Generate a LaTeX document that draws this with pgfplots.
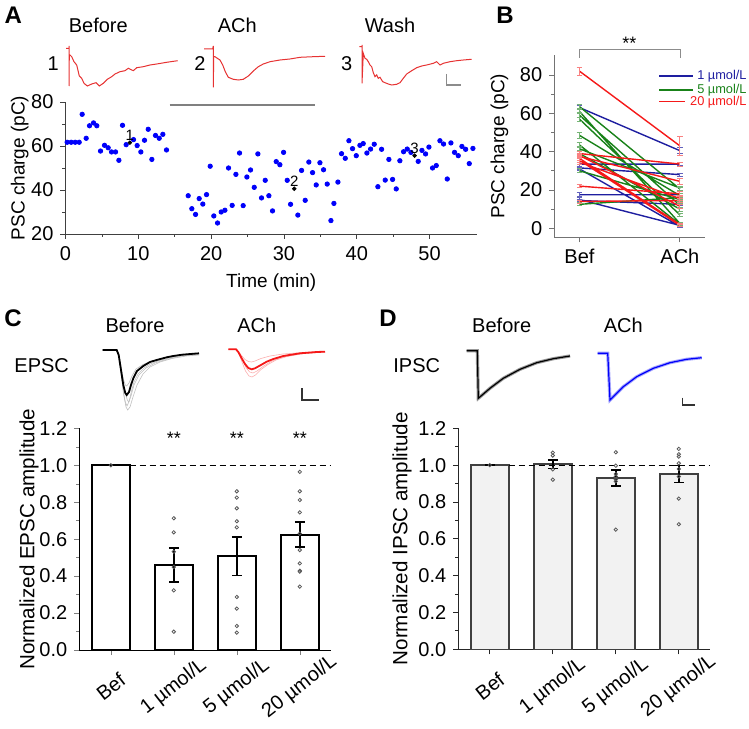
\documentclass[border=0pt]{standalone}
\usepackage{fontspec}
\setmainfont{Liberation Sans}
\usepackage{pgfplots}
\pgfplotsset{compat=1.18}
\newcommand\tfs{\fontsize{10}{12}\selectfont}
\newcommand\lfs{\fontsize{9.5}{11}\selectfont}
\newcommand\cfs{\fontsize{10.3}{12}\selectfont}
\newcommand\hfs{\fontsize{10}{12}\selectfont}
\newcommand\pfs{\fontsize{12}{14}\selectfont\bfseries}
\newcommand\gfs{\fontsize{6.4}{8}\selectfont}
\definecolor{cblue}{RGB}{30,30,160}
\definecolor{cgreen}{RGB}{25,130,25}
\definecolor{cred}{RGB}{245,25,25}
\definecolor{tred}{RGB}{230,50,50}
\definecolor{dblue}{RGB}{0,0,250}
\pgfplotsset{panel/.style={scale only axis, anchor=south west, axis lines*=left,
  axis line style={-}, tick align=outside, major tick length=2.5pt, minor tick length=1.5pt,
  tick label style={font=\tfs}, label style={font=\lfs},
  /pgf/number format/assume math mode=true, clip=false}}

% panel B data: one row pair per cell, nan rows break the lines
\pgfplotstableread{
x y e
0 63 1
1 40.5 1.5
nan nan nan
0 33.5 1
1 33.5 0.8
nan nan nan
0 31.5 1
1 28 0.8
nan nan nan
0 31 1
1 1 0.6
nan nan nan
0 17.5 1
1 17.5 0.8
nan nan nan
0 15 1
1 1.5 0.6
nan nan nan
0 14.5 0.8
1 12.5 0.8
}\bblue
\pgfplotstableread{
x y e
0 63.5 1
1 20.5 1
nan nan nan
0 61 1
1 2.5 0.8
nan nan nan
0 59 1.2
1 12 1
nan nan nan
0 57 1
1 7 1
nan nan nan
0 48.5 1.5
1 17 1
nan nan nan
0 43.5 1.5
1 2 0.8
nan nan nan
0 41.5 1
1 21 1
nan nan nan
0 39 1
1 10 1
nan nan nan
0 30 1
1 15 1
nan nan nan
0 12.5 0.8
1 16 1
}\bgreen
\pgfplotstableread{
x y e
0 82 2
1 43 5
nan nan nan
0 39 1
1 33.5 1
nan nan nan
0 37.5 1
1 24.5 1.5
nan nan nan
0 36.5 1
1 2 0.8
nan nan nan
0 38 1
1 11.5 1
nan nan nan
0 34.5 1
1 15.5 1
nan nan nan
0 22 0.8
1 18 1
nan nan nan
0 14 0.8
1 14.5 1
nan nan nan
0 35.5 1
1 1.5 0.6
}\bred

\begin{document}
\begin{tikzpicture}
\useasboundingbox (0,0) rectangle (374.5pt,364pt);

% ---------- canvas in pixel coordinates: traces, scale bars, labels ----------
\begin{axis}[at={(0pt,0pt)}, anchor=south west, scale only axis, width=374.5pt, height=364pt,
  xmin=0, xmax=749, ymin=0, ymax=728, y dir=reverse, hide axis, clip=false]
% A traces
\addplot[tred, line width=0.5pt] coordinates {(66,48.3)(69,48.3)(69,46)(69,86)(69.3,55)(70,55)(71.7,56.7)(74,61.7)(76.7,65)(79.3,76)(81.7,78.3)(84,83.3)(87.3,86)(91.7,84)(96,82.7)(99.3,86)(103.3,83.3)(107.3,79.3)(111.7,76.7)(115,74)(120,71.7)(125,70.7)(128.3,68.3)(133.3,70.7)(136.7,67.7)(143.3,66.7)(150,65)(156.7,64)(166.7,62.3)(177.7,60.7)};
\addplot[tred, line width=0.5pt] coordinates {(204,49)(212.7,49)(213.3,46)(213.3,87.3)(213.7,56.7)(215,56.7)(217.3,58.3)(220,60)(222.7,65)(225.3,71.7)(228.3,77.3)(233.3,79.3)(238.3,80)(243.3,79.3)(248.3,76)(253.3,71)(258.3,66.7)(263.3,64)(270,61.7)(280,60)(290,59)(300,57.3)(313.3,56.7)(325,56.3)};
\addplot[tred, line width=0.5pt] coordinates {(359.3,46.7)(362,46.7)(362,45)(362,83.3)(363.3,53.3)(365,58.3)(366.7,59.3)(368.3,61.7)(370,65)(371.7,66.7)(373.3,72.7)(375,76.7)(376.7,75)(378.3,78.3)(380,77.3)(382.7,81.7)(385,82.7)(388.3,84)(391.7,85)(396.7,84.3)(400,82.7)(403.3,78.3)(406.7,74)(411.7,70.7)(416.7,67.7)(421.7,66)(426.7,65)(433.3,63.3)(436.7,61.7)(440,65)(443.3,63.3)(450,61.7)(456.7,60.7)(463.3,60)(471.7,59.3)};
\addplot[black!45, line width=0.6pt] coordinates {(446.7,74)(446.7,85)(460.7,85)};
\node[font=\hfs] at (axis cs:98.3,25) {Before};
\node[font=\hfs] at (axis cs:237.3,25) {ACh};
\node[font=\hfs] at (axis cs:390,25) {Wash};
\node[font=\hfs] at (axis cs:53.3,63.3) {1};
\node[font=\hfs] at (axis cs:200,63.3) {2};
\node[font=\hfs] at (axis cs:346.7,63.3) {3};
\node[font=\pfs] at (axis cs:13.3,15) {A};
\node[font=\pfs] at (axis cs:505,15) {B};
\node[font=\pfs] at (axis cs:13,318) {C};
\node[font=\pfs] at (axis cs:388,318) {D};
% B bracket and legend
\addplot[black!45, line width=0.5pt] coordinates {(579.3,58)(579.3,49.3)(680,49.3)(680,58)};
\node[font=\fontsize{9}{10}\selectfont] at (axis cs:629.3,43.5) {**};
\addplot[cblue, line width=0.75pt] coordinates {(659,76)(693,76)};
\addplot[cgreen, line width=0.75pt] coordinates {(659,90)(693,90)};
\addplot[cred, line width=0.75pt] coordinates {(659,101.7)(685,101.7)};
\node[font=\gfs, text=cblue, anchor=east, inner sep=0pt] at (axis cs:747,76) {1 µmol/L};
\node[font=\gfs, text=cgreen, anchor=east, inner sep=0pt] at (axis cs:747,90) {5 µmol/L};
\node[font=\gfs, text=cred, anchor=east, inner sep=0pt] at (axis cs:747,101.7) {20 µmol/L};
% C traces
\addplot[black!25, line width=0.3pt] coordinates {(102.7,350)(116.7,350)(118.7,356)(121,373)(123.3,392)(125.3,402)(127,406)(129.3,401)(131.5,391)(134,382)(138,374)(144,368)(150,364)(158,361)(167,358.5)(180,355.7)(199,354)};
\addplot[black!25, line width=0.3pt] coordinates {(102.7,350)(117,350)(119.3,357)(122,375)(125,392)(127.3,400)(128.7,402)(131,396)(134,385)(139,375)(146,368)(155,363)(166,359.5)(182,356)(199,354.3)};
\addplot[black!25, line width=0.3pt] coordinates {(102.7,350)(116.7,350)(118.7,354)(121,366)(123.3,379)(125.3,385)(126.7,386)(129,383)(132,376)(136,369)(143,364.5)(152,361)(165,357.5)(182,355)(199,353.5)};
\addplot[black!25, line width=0.3pt] coordinates {(102.7,350)(116.7,350)(119,357)(121.5,376)(124,396)(126,407)(127.7,410)(130,407)(133,397)(137,385)(143,374)(150,367)(160,362)(172,358.5)(186,356)(199,355)};
\addplot[black, line width=0.9pt] coordinates {(102.7,350)(116.7,350)(118.7,355)(121,370)(123.3,385)(125.3,393)(126.7,395)(129,392)(131,385)(133.3,378.3)(137,371)(143.3,366)(150,362)(156.7,360)(166.7,357.3)(173.3,356)(182,354.7)(199,353.3)};
\addplot[cred!35, line width=0.3pt] coordinates {(228.3,349.3)(236,349.3)(238.7,353)(242,362)(245.5,371)(249,376)(252,377)(255.5,375)(261,369.5)(268,364.5)(276,360)(287,356.5)(303,353.7)(325,352)};
\addplot[cred!35, line width=0.3pt] coordinates {(228.3,349.3)(236,349.3)(238.3,351.5)(241.5,355.5)(245,359.5)(248.5,361.5)(251.5,362)(255,361)(261,358.5)(270,356)(283,354)(303,352.5)(325,351.5)};
\addplot[cred!35, line width=0.3pt] coordinates {(228.3,349.3)(236.5,349.3)(239,352.5)(242.5,360)(246.3,368)(249.7,372)(253,373)(257,371)(263,366.5)(271,361.5)(281,357.5)(298,354)(325,352)};
\addplot[cred, line width=0.9pt] coordinates {(228.3,349.3)(236,349.3)(238.3,352)(241.7,358.3)(245,364)(248.3,368)(251.7,369.3)(255,368.3)(260,365.5)(266.7,361.7)(273.3,359)(283.3,356)(300,353.3)(316.7,352)(325,351.7)};
\addplot[black!80, line width=0.6pt] coordinates {(302,388.3)(302,400)(318.7,400)};
\node[font=\hfs] at (axis cs:135,325) {Before};
\node[font=\hfs] at (axis cs:256.7,325) {ACh};
\node[font=\hfs] at (axis cs:41.7,366) {EPSC};
% D traces
\addplot[black!40, line width=1.6pt] coordinates {(466.7,350.7)(477.3,350.7)(478.3,398.3)(490,388.3)(503.3,378.3)(520,369.3)(536.7,362.7)(553.3,358.7)(570,356)};
\addplot[black, line width=0.6pt] coordinates {(466.7,350.7)(477.3,350.7)(478.3,398.3)(490,388.3)(503.3,378.3)(520,369.3)(536.7,362.7)(553.3,358.7)(570,356)};
\addplot[dblue!35, line width=1.6pt] coordinates {(597.7,353.3)(607.7,353.3)(610,400)(623.3,386.7)(636.7,376.7)(653.3,368.3)(670,362.7)(686.7,359.3)(701.7,357.7)};
\addplot[dblue, line width=0.6pt] coordinates {(597.7,353.3)(607.7,353.3)(610,400)(623.3,386.7)(636.7,376.7)(653.3,368.3)(670,362.7)(686.7,359.3)(701.7,357.7)};
\addplot[black!80, line width=0.6pt] coordinates {(682.7,397.7)(682.7,405)(695,405)};
\node[font=\hfs] at (axis cs:501.7,325) {Before};
\node[font=\hfs] at (axis cs:623.3,325) {ACh};
\node[font=\hfs] at (axis cs:416.7,366) {IPSC};
\end{axis}

% ---------- A: PSC charge over time ----------
\begin{axis}[panel, at={(32.75pt,247pt)}, width=205.7pt, height=66pt,
  xmin=0, xmax=56.5, ymin=20, ymax=80, xtick={0,10,...,50}, ytick={20,40,60,80},
  minor x tick num=1, minor y tick num=1,
  axis line style={black!75}, every tick/.style={black!75},
  ylabel style={yshift=-5.5pt},
  xlabel={Time (min)}, ylabel={PSC charge (pC)}]
\addplot[black!50, line width=1pt] coordinates {(14.3,78.8)(34.3,78.8)};
\addplot[only marks, mark=*, mark size=1.1pt, mark options={draw=dblue, fill=dblue}] coordinates {
(0.23,61.7)(0.78,61.7)(1.33,61.7)(1.88,61.7)(2.29,74.4)(2.84,63.5)(3.30,69.2)(3.85,70.5)(4.30,69.2)(4.81,57.7)
(5.36,60.3)(5.86,59.2)(6.32,57.3)(6.87,57.3)(7.33,53.5)(7.83,69.4)(8.33,60.6)(9.34,62.9)(9.84,60.2)(10.35,57.3)
(10.85,62.6)(11.36,67.6)(11.86,53.9)(12.36,64.8)(12.87,63.5)(13.37,65.3)(13.87,58.2)
(16.85,37.4)(17.35,31.5)(17.86,28.9)(18.36,36.1)(18.86,33.6)(19.37,37.9)(19.87,50.8)(20.37,28.2)(20.88,25.0)(21.38,30.0)
(21.89,30.8)(22.39,50.0)(22.89,33.0)(23.40,47.1)(23.90,56.8)(24.40,32.9)(24.91,45.9)(25.41,49.1)(25.92,41.2)(26.42,56.4)
(26.92,36.4)(27.43,44.4)(27.93,37.4)(28.43,30.5)(28.94,52.9)(29.44,51.5)(29.95,57.1)(30.45,44.4)(30.91,33.5)(31.91,28.6)
(32.42,48.9)(32.92,35.3)(33.42,52.7)(33.93,47.9)(34.43,42.3)(34.94,52.4)(35.44,49.2)(35.94,42.7)(36.45,26.1)(36.86,33.9)
(37.41,43.6)(37.91,56.5)(38.42,54.4)(38.92,62.4)(39.42,58.8)(39.93,55.6)(40.43,60.3)(40.89,61.1)(41.39,56.8)(41.90,58.6)
(42.40,60.8)(42.90,41.5)(43.41,58.5)(43.91,44.5)(44.41,53.9)(44.92,44.8)(45.42,40.5)(45.92,53.3)(46.43,57.4)(46.93,58.6)
(47.44,57.1)(48.44,53.0)(48.95,58.0)(49.45,56.4)(49.91,59.5)(50.41,50.0)(50.92,51.1)(51.42,62.4)(51.92,60.9)(52.43,45.0)
(52.93,61.4)(53.43,57.1)(53.94,55.6)(54.44,59.8)(54.95,58.5)(55.45,52.0)(55.95,58.9)};
\addplot[only marks, mark=*, mark size=0.9pt, black, nodes near coords, point meta=explicit symbolic,
  nodes near coords style={font=\fontsize{7.5}{8}\selectfont, anchor=south, inner sep=1pt}]
  table[meta=l] {
x y l
8.84 61.5 1
31.41 40.6 2
47.94 55.6 3
};
\end{axis}

% ---------- B: paired PSC charge ----------
\begin{axis}[panel, at={(277.15pt,245.35pt)}, width=75.35pt, height=91.15pt,
  xmin=-0.25, xmax=1.25, ymin=-4.7, ymax=90.4, xtick={0,1}, xticklabels={Bef,ACh},
  ytick={0,20,...,80}, minor y tick num=1, unbounded coords=jump,
  axis line style={black!55}, every tick/.style={black!55},
  ylabel style={yshift=-1pt},
  ylabel={PSC charge (pC)}]
\addplot[cblue, line width=0.7pt, error bars/.cd, y dir=both, y explicit,
  error bar style={cblue!70, line width=0.5pt}, error mark options={rotate=90, mark size=1.4pt, cblue!70}]
  table[x=x, y=y, y error=e] {\bblue};
\addplot[cgreen, line width=0.7pt, error bars/.cd, y dir=both, y explicit,
  error bar style={cgreen!60, line width=0.5pt}, error mark options={rotate=90, mark size=1.4pt, cgreen!60}]
  table[x=x, y=y, y error=e] {\bgreen};
\addplot[cred, line width=0.7pt, error bars/.cd, y dir=both, y explicit,
  error bar style={cred!55, line width=0.5pt}, error mark options={rotate=90, mark size=1.4pt, cred!55}]
  table[x=x, y=y, y error=e] {\bred};
\end{axis}

% ---------- C: EPSC amplitude ----------
\begin{axis}[panel, at={(39.65pt,39pt)}, width=126pt, height=110.85pt,
  xmin=-0.5, xmax=3.5, ymin=0, ymax=1.2, xtick={0,1,2,3},
  xticklabels={Bef, 1 µmol/L, 5 µmol/L, 20 µmol/L},
  xticklabel style={yshift=-16pt, rotate=38, anchor=center},
  ytick={0,0.2,...,1.2}, minor y tick num=1,
  yticklabel style={/pgf/number format/.cd, fixed, fixed zerofill, precision=1},
  label style={font=\cfs}, ylabel style={yshift=-6.5pt},
  ylabel={Normalized EPSC amplitude}]
\addplot[ybar, bar width=0.6, fill=white, draw=black, line width=1pt,
  error bars/.cd, y dir=both, y explicit, error bar style={black, line width=0.8pt},
  error mark options={rotate=90, mark size=2.5pt, black, line width=0.8pt}]
  table[x=x, y=y, y error=e] {
x y e
0 1 0
1 0.46 0.093
2 0.508 0.105
3 0.624 0.068
};
\addplot[black, dashed, dash pattern=on 3pt off 2pt, line width=0.6pt] coordinates {(0.3,1)(3.5,1)};
\addplot[only marks, mark=o, mark size=0.85pt, black!65, line width=0.4pt] coordinates {
(0,1)
(1,0.713)(1,0.637)(1,0.532)(1,0.449)(1,0.323)(1,0.099)
(2,0.859)(2,0.825)(2,0.767)(2,0.697)(2,0.664)(2,0.287)(2,0.224)(2,0.130)(2,0.094)
(3,0.964)(3,0.859)(3,0.812)(3,0.745)(3,0.630)(3,0.541)(3,0.469)(3,0.429)(3,0.424)(3,0.343)};
\node[font=\fontsize{9}{10}\selectfont] at (axis cs:1,1.146) {**};
\node[font=\fontsize{9}{10}\selectfont] at (axis cs:2,1.146) {**};
\node[font=\fontsize{9}{10}\selectfont] at (axis cs:3,1.146) {**};
\end{axis}

% ---------- D: IPSC amplitude ----------
\begin{axis}[panel, at={(229.15pt,39.35pt)}, width=126pt, height=110.5pt,
  xmin=-0.5, xmax=3.5, ymin=0, ymax=1.2, xtick={0,1,2,3},
  xticklabels={Bef, 1 µmol/L, 5 µmol/L, 20 µmol/L},
  xticklabel style={yshift=-16pt, rotate=38, anchor=center},
  ytick={0,0.2,...,1.2}, minor y tick num=1,
  axis line style={black!85}, every tick/.style={black!85},
  yticklabel style={/pgf/number format/.cd, fixed, fixed zerofill, precision=1},
  label style={font=\cfs}, ylabel style={yshift=-3.5pt},
  ylabel={Normalized IPSC amplitude}]
\addplot[ybar, bar width=0.6, fill=black!5, draw=black!75, line width=0.8pt,
  error bars/.cd, y dir=both, y explicit, error bar style={black, line width=0.7pt},
  error mark options={rotate=90, mark size=2.5pt, black, line width=0.7pt}]
  table[x=x, y=y, y error=e] {
x y e
0 1 0
1 1.005 0.022
2 0.930 0.043
3 0.952 0.045
};
\addplot[black, dashed, dash pattern=on 3pt off 2pt, line width=0.6pt] coordinates {(0.3,1)(3.5,1)};
\addplot[only marks, mark=o, mark size=0.85pt, black!65, line width=0.4pt] coordinates {
(0,1)
(1,1.068)(1,1.052)(1,0.977)(1,0.921)
(2,1.070)(2,0.997)(2,0.952)(2,0.938)(2,0.923)(2,0.912)(2,0.650)
(3,1.088)(3,1.059)(3,1.046)(3,1.010)(3,0.979)(3,0.938)(3,0.818)(3,0.679)};
\end{axis}
\end{tikzpicture}
\end{document}
